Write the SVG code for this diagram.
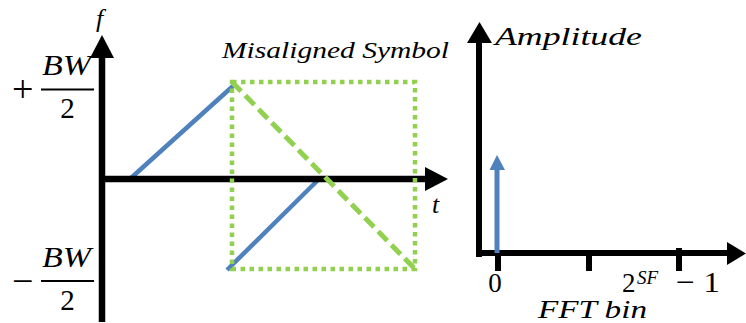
<svg xmlns="http://www.w3.org/2000/svg" width="746" height="323" viewBox="0 0 746 323">
<style>
.t{font-family:"Liberation Serif","DejaVu Serif",serif;fill:#000}
.i{font-style:italic}
.ax{stroke:#000;stroke-width:6.5;fill:none}
.ax2{stroke:#000;stroke-width:6;fill:none}
.blue{stroke:#4F81BD;stroke-width:4.5;fill:none}
.gdot{stroke:#92D050;stroke-width:4.5;fill:none;stroke-dasharray:4.5 4.5}
.gdash{stroke:#92D050;stroke-width:5;fill:none;stroke-dasharray:13 6}
</style>
<rect width="746" height="323" fill="#fff"/>
<g id="left-chart">
  <g id="signal">
    <line class="blue" x1="131" y1="178" x2="233" y2="86"/>
    <line class="blue" x1="227" y1="270" x2="318" y2="180"/>
  </g>
  <g id="axes-left">
    <line class="ax" x1="102" y1="322" x2="102" y2="55"/>
    <polygon points="90,58 114,58 102,35" fill="#000"/>
    <line class="ax" x1="99" y1="179" x2="428" y2="179"/>
    <polygon points="425,167 425,191 448,179" fill="#000"/>
  </g>
  <g id="window">
    <rect class="gdot" x="232" y="82" width="183" height="187"/>
    <line class="gdash" x1="232" y1="82" x2="415" y2="269"/>
  </g>
  <g id="labels-left">
    <text class="t i" x="96" y="27" font-size="26">f</text>
    <text class="t i" x="432" y="213" font-size="26">t</text>
    <text class="t i" x="222" y="58" font-size="24" textLength="227" lengthAdjust="spacingAndGlyphs">Misaligned Symbol</text>
    <text class="t" x="12" y="102" font-size="38">+</text>
    <text class="t i" x="42" y="75" font-size="29" textLength="49" lengthAdjust="spacingAndGlyphs">BW</text>
    <line x1="41" y1="89.5" x2="94" y2="89.5" stroke="#000" stroke-width="2"/>
    <text class="t" x="67.5" y="118" font-size="29" text-anchor="middle">2</text>
    <text class="t" x="12" y="294" font-size="38">−</text>
    <text class="t i" x="42" y="267" font-size="29" textLength="49" lengthAdjust="spacingAndGlyphs">BW</text>
    <line x1="41" y1="281" x2="94" y2="281" stroke="#000" stroke-width="2"/>
    <text class="t" x="67.5" y="310" font-size="29" text-anchor="middle">2</text>
  </g>
</g>
<g id="right-chart">
  <g id="axes-right">
    <line class="ax2" x1="479" y1="257" x2="479" y2="40"/>
    <polygon points="467,43 492,43 479.5,22" fill="#000"/>
    <line class="ax2" x1="476" y1="253" x2="730" y2="253"/>
    <polygon points="727,242 727,265 746,253.5" fill="#000"/>
    <line class="ax2" x1="498" y1="253" x2="498" y2="271"/>
    <line class="ax2" x1="589" y1="253" x2="589" y2="271"/>
    <line class="ax2" x1="679" y1="248" x2="679" y2="271"/>
  </g>
  <g id="peak">
    <line x1="497" y1="253" x2="497" y2="168" stroke="#4F81BD" stroke-width="5"/>
    <polygon points="489.5,170 505,170 497,155" fill="#4F81BD"/>
  </g>
  <g id="labels-right">
    <text class="t i" x="495" y="45" font-size="25" textLength="147" lengthAdjust="spacingAndGlyphs">Amplitude</text>
    <text class="t" x="495" y="292" font-size="27" text-anchor="middle">0</text>
    <text class="t" x="622" y="292" font-size="27">2</text>
    <text class="t i" x="637" y="284" font-size="19">SF</text>
    <text class="t" x="676" y="292" font-size="30" textLength="44" lengthAdjust="spacingAndGlyphs">− 1</text>
    <text class="t i" x="538" y="318" font-size="25" textLength="109" lengthAdjust="spacingAndGlyphs">FFT bin</text>
  </g>
</g>
</svg>
